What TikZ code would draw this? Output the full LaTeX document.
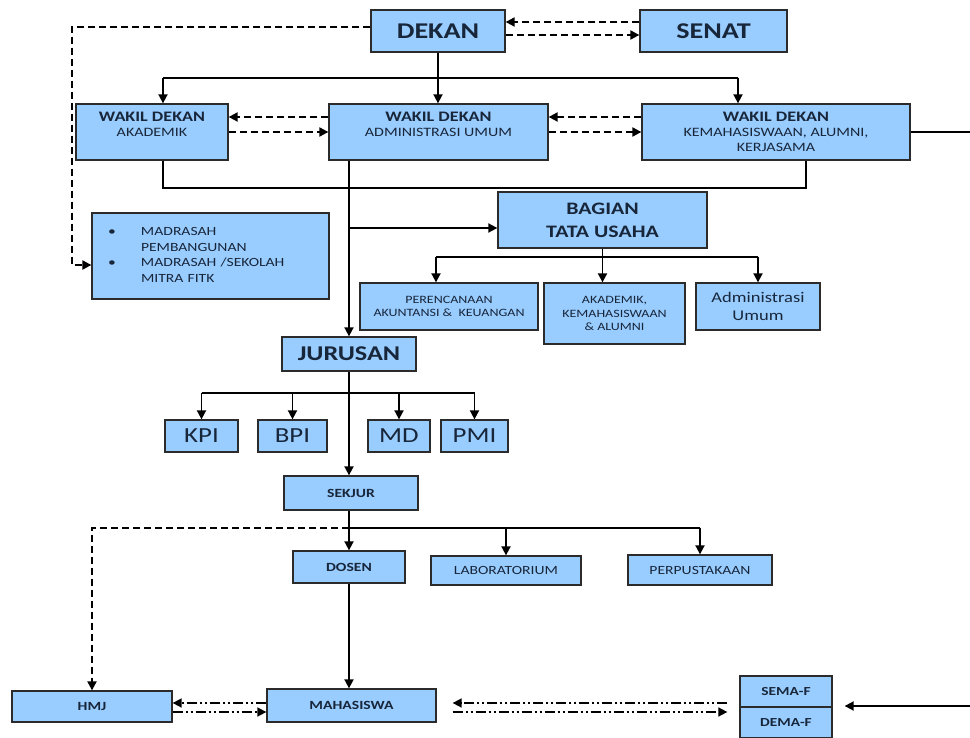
\documentclass[tikz,border=0pt]{standalone}
\usepackage{fontspec}
\setmainfont{Carlito}[FakeStretch=1.25]
\usetikzlibrary{arrows.meta}
\definecolor{boxfill}{HTML}{99CCFF}
\definecolor{boxline}{HTML}{2B2B2B}
\definecolor{txt}{HTML}{18263A}
\begin{document}
\begin{tikzpicture}[x=1pt,y=-1pt,
  box/.style={draw=boxline, line width=1.3pt, fill=boxfill, inner sep=0pt, text=txt, align=center},
  big/.style={font=\bfseries\fontsize{22.5}{26}\selectfont},
  wd/.style={font=\fontsize{12.8}{15}\selectfont},
  sm/.style={font=\fontsize{12.5}{15}\selectfont},
  tiny/.style={font=\fontsize{11.2}{13.5}\selectfont},
  arr/.style={-{Triangle[length=9pt,width=9pt]}, line width=1.8pt},
  ln/.style={line width=1.8pt},
  darr/.style={arr, dash pattern=on 7pt off 4pt, line width=2pt},
  ddarr/.style={arr, dash pattern=on 10pt off 3pt on 2pt off 3pt on 2pt off 3pt, line width=1.7pt}]
\useasboundingbox (0,0) rectangle (970,738);
% nodes
\node[box, big, minimum width=134pt, minimum height=42pt] (dekan) at (438,31) {DEKAN};
\node[box, big, minimum width=147pt, minimum height=42pt] (senat) at (713.5,31) {SENAT};
\node[box, wd, minimum width=152pt, minimum height=56pt] (wda) at (152,132) {\textbf{\fontsize{14.5}{15}\selectfont WAKIL DEKAN}\\AKADEMIK\\\mbox{}};
\node[box, wd, minimum width=219pt, minimum height=56pt] (wdadm) at (438.5,132) {\textbf{\fontsize{14.5}{15}\selectfont WAKIL DEKAN}\\ADMINISTRASI UMUM\\\mbox{}};
\node[box, wd, minimum width=268pt, minimum height=56pt] (wdk) at (776,132) {\textbf{\fontsize{14.5}{15}\selectfont WAKIL DEKAN}\\KEMAHASISWAAN, ALUMNI,\\KERJASAMA};
\node[box, minimum width=237pt, minimum height=86pt, text width=205pt, align=left, font=\fontsize{12.5}{15.5}\selectfont] (madrasah) at (210.5,256) {\begin{tabular}{@{}p{33pt}@{}l@{}}\textbullet & MADRASAH\\ & PEMBANGUNAN\\ \textbullet & MADRASAH /SEKOLAH\\ & MITRA FITK\end{tabular}};
\node[box, font=\bfseries\fontsize{17.5}{23}\selectfont, minimum width=209pt, minimum height=56pt] (bagian) at (602.5,220) {BAGIAN\\TATA USAHA};
\node[box, tiny, minimum width=178pt, minimum height=47pt] (peren) at (449,306.5) {PERENCANAAN\\AKUNTANSI \&\ \ KEUANGAN};
\node[box, tiny, minimum width=141pt, minimum height=61pt] (akad) at (614.5,313.5) {AKADEMIK,\\KEMAHASISWAAN\\\& ALUMNI};
\node[box, font=\fontsize{14.8}{18}\selectfont, minimum width=124pt, minimum height=47pt] (adm) at (758,306.5) {Administrasi\\Umum};
\node[box, font=\bfseries\fontsize{21}{24}\selectfont, minimum width=134pt, minimum height=34pt] (jurusan) at (349,354) {JURUSAN};
\node[box, font=\fontsize{21.5}{23}\selectfont, minimum width=73pt, minimum height=32pt] (kpi) at (201.5,436) {KPI};
\node[box, font=\fontsize{21.5}{23}\selectfont, minimum width=69pt, minimum height=32pt] (bpi) at (292.5,436) {BPI};
\node[box, font=\fontsize{21.5}{23}\selectfont, minimum width=62pt, minimum height=32pt] (md) at (399,436) {MD};
\node[box, font=\fontsize{21.5}{23}\selectfont, minimum width=67pt, minimum height=32pt] (pmi) at (474.5,436) {PMI};
\node[box, font=\bfseries\fontsize{12.5}{15}\selectfont, minimum width=134pt, minimum height=34pt] (sekjur) at (351,493) {SEKJUR};
\node[box, font=\bfseries\fontsize{12.5}{15}\selectfont, minimum width=112pt, minimum height=32pt] (dosen) at (349,567) {DOSEN};
\node[box, sm, minimum width=150pt, minimum height=29pt] (lab) at (506,570.5) {LABORATORIUM};
\node[box, sm, minimum width=144pt, minimum height=30pt] (perpus) at (700,570) {PERPUSTAKAAN};
\node[box, font=\bfseries\fontsize{12.5}{15}\selectfont, minimum width=160pt, minimum height=31pt] (hmj) at (92,706.5) {HMJ};
\node[box, font=\bfseries\fontsize{12.5}{15}\selectfont, minimum width=169pt, minimum height=33pt] (mhs) at (351.5,705.5) {MAHASISWA};
\node[box, font=\bfseries\fontsize{12.3}{15}\selectfont, minimum width=92pt, minimum height=31pt] (sema) at (786,691.5) {SEMA-F};
\node[box, font=\bfseries\fontsize{12.3}{15}\selectfont, minimum width=92pt, minimum height=31pt] (dema) at (786,722.5) {DEMA-F};
% connectors top
\draw[arr] (dekan.south) -- (dekan.south |- wdadm.north);
\coordinate (t1) at ([yshift=-25pt]dekan.south);
\coordinate (pA) at ([xshift=11pt]wda.north);
\coordinate (pK) at ([xshift=-38pt]wdk.north);
\draw[ln] (pA |- t1) -- (pK |- t1);
\draw[arr] (pA |- t1) -- (pA);
\draw[arr] (pK |- t1) -- (pK);
\draw[darr] ([yshift=9pt]senat.west) -- ([yshift=9pt]dekan.east);
\draw[darr] ([yshift=-4pt]dekan.east) -- ([yshift=-4pt]senat.west);
\draw[darr] ([yshift=15pt]wdadm.west) -- ([yshift=15pt]wda.east);
\draw[darr] (wda.east) -- (wdadm.west);
\draw[darr] ([yshift=15pt]wdk.west) -- ([yshift=15pt]wdadm.east);
\draw[darr] (wdadm.east) -- (wdk.west);
\coordinate (rE1) at (970,132);
\draw[ln] (wdk.east) -- (rE1);
\coordinate (pA2) at ([xshift=11pt]wda.south);
\coordinate (pK2) at ([xshift=30pt]wdk.south);
\draw[ln] (pA2) -- ++(0,27) -| (pK2);
% dashed from dekan to madrasah
\coordinate (d0) at ([yshift=4pt]dekan.west);
\coordinate (dl) at (72,0);
\coordinate (mIn) at ([yshift=-9pt]madrasah.west);
\draw[darr] (d0) -- (d0 -| dl) |- (mIn);
% admin column
\draw[arr] (wdadm.south -| jurusan.north) -- (jurusan.north);
\coordinate (b1) at (0,228);
\draw[arr] (jurusan.north |- b1) -- (bagian.west |- b1);
\coordinate (b2) at ([yshift=-8pt]bagian.south);
\coordinate (pP) at ([xshift=-13pt]peren.north);
\draw[ln] (bagian.south) -- (b2);
\draw[ln] (pP |- b2) -- (adm.north |- b2);
\draw[arr] (pP |- b2) -- (pP);
\draw[arr] (b2) -- (b2 |- akad.north);
\draw[arr] (adm.north |- b2) -- (adm.north);
% jurusan
\draw[arr] (jurusan.south) -- (jurusan.south |- sekjur.north);
\coordinate (j2) at ([yshift=-21pt]jurusan.south);
\draw[ln] (j2 -| kpi.north) -- (j2 -| pmi.north);
\draw[arr] (j2 -| kpi.north) -- (kpi.north);
\draw[arr] (j2 -| bpi.north) -- (bpi.north);
\draw[arr] (j2 -| md.north) -- (md.north);
\draw[arr] (j2 -| pmi.north) -- (pmi.north);
% sekjur
\draw[arr] (sekjur.south -| dosen.north) -- (dosen.north);
\coordinate (s1) at ([yshift=-17pt]sekjur.south);
\coordinate (j3) at (s1 -| dosen.north);
\draw[ln] (j3) -- (j3 -| perpus.north);
\draw[arr] (j3 -| lab.north) -- (lab.north);
\draw[arr] (j3 -| perpus.north) -- (perpus.north);
\draw[darr] (j3) -| (hmj.north);
\draw[arr] (dosen.south) -- (dosen.south |- mhs.north);
% bottom
\coordinate (m1) at ([yshift=2.5pt]mhs.west);
\coordinate (m2) at ([yshift=-6.5pt]mhs.west);
\draw[ddarr] (m1) -- (m1 -| hmj.east);
\draw[ddarr] (m2 -| hmj.east) -- (m2);
\coordinate (m3) at ([yshift=2.5pt]mhs.east);
\coordinate (m4) at ([yshift=-6.5pt]mhs.east);
\draw[ddarr, shorten <=12pt, shorten >=16pt] (m3 -| sema.west) -- (m3);
\draw[ddarr, shorten <=16pt, shorten >=12pt] (m4) -- (m4 -| sema.west);
\coordinate (rE2) at (970,706);
\draw[arr, shorten >=12pt] (rE2) -- (rE2 -| sema.east);
\end{tikzpicture}
\end{document}
